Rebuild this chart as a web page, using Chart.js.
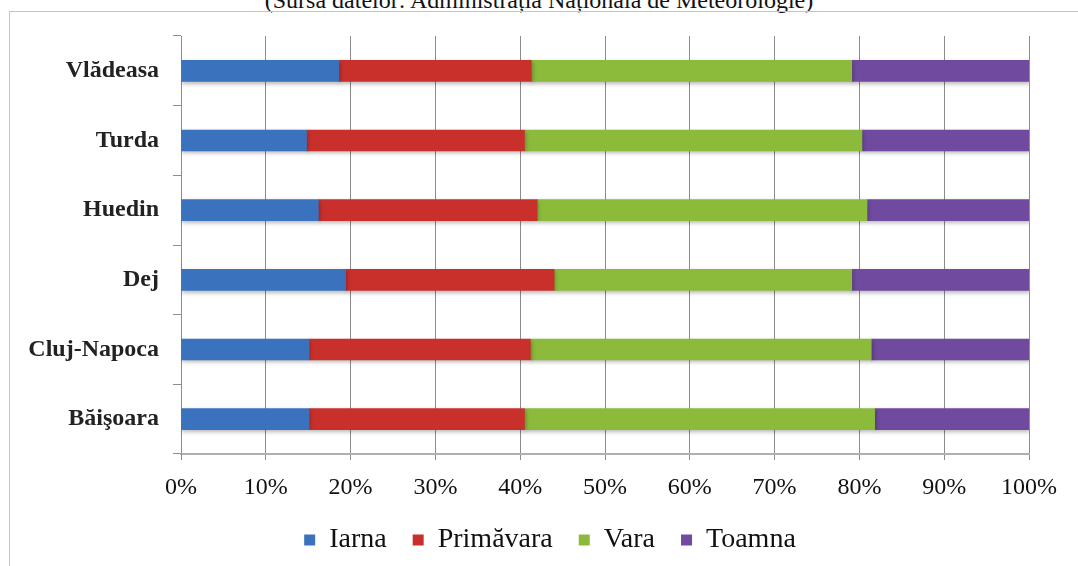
<!DOCTYPE html>
<html>
<head>
<meta charset="utf-8">
<script src="https://cdn.jsdelivr.net/npm/chart.js@4"></script>
<style>
  html, body { margin: 0; padding: 0; background: #fff; width: 1078px; height: 566px; overflow: hidden; }
  #title { position: absolute; left: 0; width: 1078px; top: -12px; text-align: center;
    font-family: "Liberation Serif", serif; font-size: 24px; line-height: 24px; color: #111; white-space: nowrap; }
  #frame { position: absolute; left: 9px; top: 11px; width: 1080px; height: 570px; border: 1px solid #c4c4c4; box-sizing: border-box; }
  #wrap { position: absolute; left: 0; top: 0; width: 1078px; height: 580px; }
</style>
</head>
<body>
<div id="title">(Sursa datelor: Administrația Națională de Meteorologie)</div>
<div id="frame"></div>
<div id="wrap"><canvas id="c"></canvas></div>
<script>
const stations = ["Vlădeasa", "Turda", "Huedin", "Dej", "Cluj-Napoca", "Băişoara"];
const seasons = ["Iarna", "Primăvara", "Vara", "Toamna"];
const iarna     = [18.6, 14.8, 16.2, 19.4, 15.1, 15.1];
const primavara = [22.7, 25.7, 25.8, 24.6, 26.1, 25.4];
const vara      = [37.8, 39.8, 38.9, 35.1, 40.2, 41.3];
const toamna    = [20.9, 19.7, 19.1, 20.9, 18.6, 18.2];
const seriesValues = [iarna, primavara, vara, toamna];
const colors = ["#3b72bd", "#c9302c", "#8cbb3c", "#6f4a9e"];

const serif = "Liberation Serif";
Chart.defaults.font.family = serif;

const shadowPlugin = {
  id: 'barShadow',
  beforeDatasetsDraw(chart) {
    const ctx = chart.ctx;
    ctx.save();
    ctx.shadowColor = 'rgba(0,0,0,0.28)';
    ctx.shadowBlur = 4;
    ctx.shadowOffsetX = 1;
    ctx.shadowOffsetY = 2;
  },
  afterDatasetsDraw(chart) { chart.ctx.restore(); }
};

const legendShift = {
  id: 'legendShift',
  afterLayout(chart) {
    if (chart.legend) { chart.legend.left += 31; chart.legend.right += 31; }
  }
};

new Chart(document.getElementById('c'), {
  type: 'bar',
  data: {
    labels: stations,
    datasets: seasons.map((s, i) => ({
      label: s,
      data: seriesValues[i],
      backgroundColor: colors[i],
      borderWidth: 0,
      barThickness: 21
    }))
  },
  options: {
    indexAxis: 'y',
    responsive: true,
    maintainAspectRatio: false,
    animation: false,
    layout: { padding: { left: 9, top: 36, right: 49, bottom: 16 } },
    plugins: {
      legend: {
        position: 'bottom',
        labels: {
          boxWidth: 11, boxHeight: 11, padding: 26, color: '#111',
          font: { family: serif, size: 28, lineHeight: 1 }
        }
      },
      tooltip: { enabled: false }
    },
    scales: {
      x: {
        stacked: true, min: 0, max: 100,
        ticks: { stepSize: 10, callback: v => v + '%', color: '#111', padding: 13,
          font: { family: serif, size: 24 }, maxRotation: 0 },
        grid: { color: '#8c8c8c', lineWidth: 1, tickLength: 6, tickColor: '#8c8c8c' },
        border: { color: '#b0b0b0', width: 2 },
        afterFit: s => { s.height = 46; }
      },
      y: {
        stacked: true,
        ticks: { color: '#222', padding: 14, font: { family: serif, size: 24, weight: 'bold' } },
        grid: { drawOnChartArea: false, tickLength: 8, color: '#8c8c8c', offset: true },
        border: { color: '#8c8c8c', width: 1 },
        afterFit: s => { s.width = 172; }
      }
    }
  },
  plugins: [shadowPlugin, legendShift]
});
</script>
</body>
</html>
